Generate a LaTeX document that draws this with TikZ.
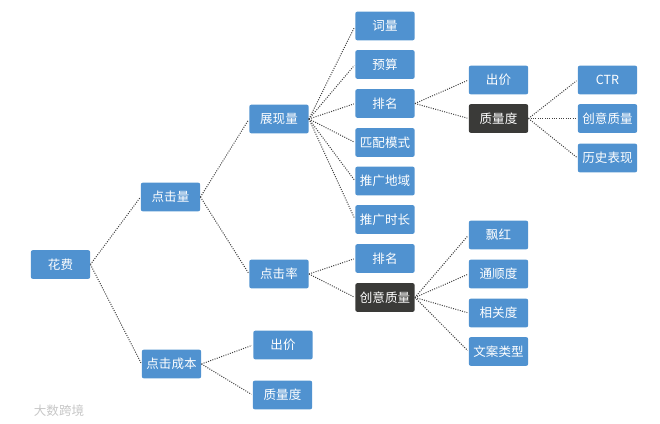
\documentclass[tikz,border=0pt]{standalone}
\usepackage{fontspec}
\setmainfont{Noto Sans CJK SC}
\usepackage{tikz}
\definecolor{boxblue}{HTML}{5092D0}
\definecolor{boxdark}{HTML}{3A3A38}

\begin{document}
\begin{tikzpicture}[
  x=0.75pt,y=-0.75pt,
  bluebox/.style={draw=none, fill=boxblue, rounded corners=1.6pt, align=center, text=white, font=\fontsize{9.4}{11}\selectfont, inner sep=0pt, minimum width=44.5pt, minimum height=21.6pt},
  darkbox/.style={bluebox, fill=boxdark},
  link/.style={densely dotted, line width=0.75pt, draw=black!75, shorten >=1pt},
  watermark/.style={text=black!22, font=\fontsize{9.4}{11}\selectfont, inner sep=0pt}
]
\useasboundingbox (0,0) rectangle (660,424);

\node[bluebox] (cost) at (60.5,264.5) {花费};
\node[bluebox] (clicks) at (170.5,197) {点击量};
\node[bluebox] (cpc) at (171.5,364) {点击成本};
\node[bluebox] (impr) at (279,119) {展现量};
\node[bluebox] (ctr) at (279,274) {点击率};
\node[bluebox] (cpcbid) at (283,345) {出价};
\node[bluebox] (cpcqual) at (282.5,395) {质量度};

\node[bluebox] (words) at (385,26) {词量};
\node[bluebox] (budget) at (385,64.5) {预算};
\node[bluebox] (rank) at (385,103.5) {排名};
\node[bluebox] (match) at (385,142.5) {匹配模式};
\node[bluebox] (region) at (385,181) {推广地域};
\node[bluebox] (hours) at (385,219.5) {推广时长};
\node[bluebox] (ctrrank) at (385,258.5) {排名};
\node[darkbox] (creative) at (385,297.5) {创意质量};

\node[bluebox] (bid) at (498.5,80) {出价};
\node[darkbox] (qual) at (498.5,118.5) {质量度};
\node[bluebox] (qualctr) at (607.5,80) {CTR};
\node[bluebox] (qualcreative) at (607.5,118.5) {创意质量};
\node[bluebox] (history) at (607.5,158) {历史表现};

\node[bluebox] (red) at (498.5,235) {飘红};
\node[bluebox] (smooth) at (498.5,274) {通顺度};
\node[bluebox] (relevance) at (498.5,313) {相关度};
\node[bluebox] (copytype) at (498.5,351.5) {文案类型};

\node[watermark] (mark) at (59,410.5) {大数跨境};

\draw[link] (cost.east) -- (clicks.west);
\draw[link] (cost.east) -- (cpc.west);
\draw[link] (clicks.east) -- (impr.west);
\draw[link] (clicks.east) -- (ctr.west);
\draw[link] (cpc.east) -- (cpcbid.west);
\draw[link] (cpc.east) -- (cpcqual.west);

\draw[link] (impr.east) -- (words.west);
\draw[link] (impr.east) -- (budget.west);
\draw[link] (impr.east) -- (rank.west);
\draw[link] (impr.east) -- (match.west);
\draw[link] (impr.east) -- (region.west);
\draw[link] (impr.east) -- (hours.west);
\draw[link] (ctr.east) -- (ctrrank.west);
\draw[link] (ctr.east) -- (creative.west);

\draw[link] (rank.east) -- (bid.west);
\draw[link] (rank.east) -- (qual.west);
\draw[link] (qual.east) -- (qualctr.west);
\draw[link] (qual.east) -- (qualcreative.west);
\draw[link] (qual.east) -- (history.west);

\draw[link] (creative.east) -- (red.west);
\draw[link] (creative.east) -- (smooth.west);
\draw[link] (creative.east) -- (relevance.west);
\draw[link] (creative.east) -- (copytype.west);
\end{tikzpicture}
\end{document}
